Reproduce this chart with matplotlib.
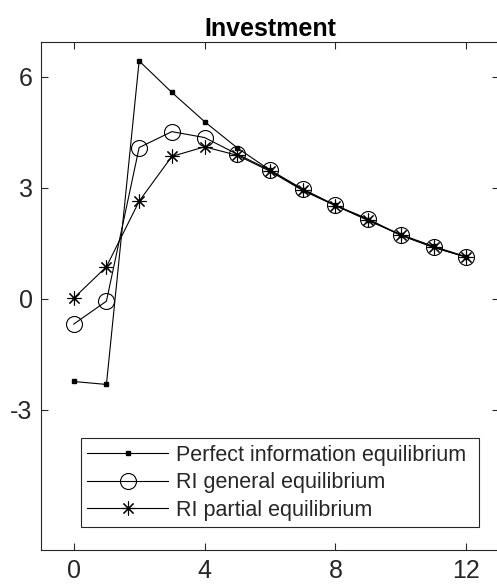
import matplotlib
matplotlib.use("Agg")
import matplotlib.pyplot as plt

plt.rcParams['font.family'] = ['Liberation Sans', 'DejaVu Sans']
plt.rcParams['axes.unicode_minus'] = False

periods = list(range(13))
perfect_info = [-2.23, -2.31, 6.43, 5.58, 4.79, 4.08, 3.48, 2.95, 2.53, 2.12, 1.74, 1.42, 1.14]
ri_general = [-0.68, -0.06, 4.09, 4.52, 4.36, 3.91, 3.48, 2.97, 2.53, 2.16, 1.72, 1.39, 1.13]
ri_partial = [0.02, 0.87, 2.64, 3.85, 4.11, 3.88, 3.45, 2.93, 2.52, 2.13, 1.72, 1.40, 1.13]
labels = ['Perfect information equilibrium', 'RI general equilibrium', 'RI partial equilibrium']
xticks = [0, 4, 8, 12]
yticks = [-3, 0, 3, 6]

grey = '#262626'
fig = plt.figure(figsize=(4.97, 5.84), dpi=100)
ax = fig.add_axes([0.0825, 0.059, 0.9215, 0.869])

ax.plot(periods, perfect_info, color='k', lw=0.8, marker='s', ms=3.2, mfc='k', label=labels[0])
ax.plot(periods, ri_general, color='k', lw=0.8, marker='o', ms=11.5, mfc='none', mew=0.8, label=labels[1])
ax.plot(periods, ri_partial, color='k', lw=0.8, marker=(8, 2, 0), ms=10, mew=0.8, label=labels[2])

ax.set_xlim(-1, 13)
ax.set_ylim(-6.77, 6.94)
ax.set_xticks(xticks)
ax.set_yticks(yticks)
ax.tick_params(direction='in', length=5, width=0.8, colors=grey, labelsize=18,
               top=True, right=True)
ax.tick_params(axis='x', pad=6.5)
ax.tick_params(axis='y', pad=6)
for s in ax.spines.values():
    s.set_color(grey)
    s.set_linewidth(0.8)
ax.set_title('Investment', fontsize=18, fontweight='bold', pad=4.5)

leg = ax.legend(loc='lower left', bbox_to_anchor=(0.0867, 0.0443, 0.870, 0.181), mode='expand',
                fontsize=15.5, handlelength=3.77, handletextpad=0.34, labelspacing=0.3,
                borderpad=0.3, borderaxespad=0, fancybox=False, framealpha=1, edgecolor=grey)
leg.get_frame().set_linewidth(0.8)
for t in leg.get_texts():
    t.set_color(grey)

fig.savefig('out.png', dpi=100)
